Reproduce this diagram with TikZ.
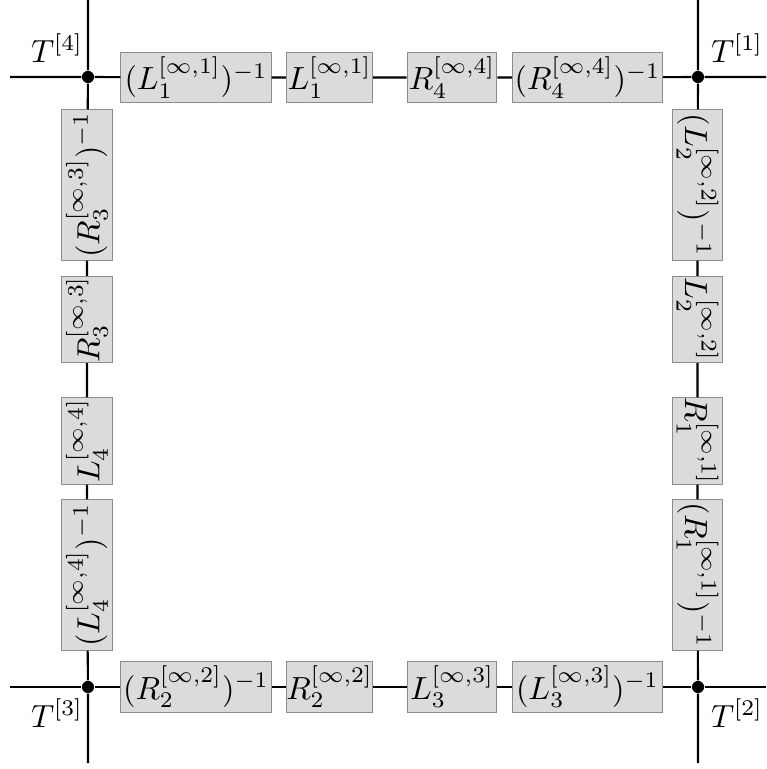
\documentclass[tikz,border=0pt]{standalone}
\usepackage{amsmath}
\begin{document}
\begin{tikzpicture}[x=0.3125pt,y=-0.3125pt,
  wire/.style={line width=0.66pt},
  gbox/.style={draw=black!45,fill=black!14,line width=0.3pt,minimum height=15.8pt,inner sep=0pt},
  longbox/.style={gbox,minimum width=47pt},
  shortbox/.style={gbox,minimum width=27pt},
  cdot/.style={circle,fill=black,inner sep=0pt,minimum size=3.8pt}]
\useasboundingbox (0,0) rectangle (766,769);
% corner dots
\node[cdot] (TL) at (88,77) {};
\node[cdot] (TR) at (698,77) {};
\node[cdot] (BL) at (88,687) {};
\node[cdot] (BR) at (698,687) {};
% free ends
\coordinate (TLw) at (10,77);
\coordinate (TLn) at (88,0);
\coordinate (TRe) at (766,77);
\coordinate (TRn) at (698,0);
\coordinate (BLw) at (10,687);
\coordinate (BLs) at (88,763);
\coordinate (BRe) at (766,687);
\coordinate (BRs) at (698,763);
% top row
\node[longbox] (a1) at (196,77.5) {$(L_1^{[\infty,1]})^{-1}$};
\node[shortbox] (a2) at (329.5,77.5) {$L_1^{[\infty,1]}$};
\node[shortbox,minimum width=28pt] (a3) at (452,77.5) {$R_4^{[\infty,4]}$};
\node[longbox] (a4) at (587.5,77.5) {$(R_4^{[\infty,4]})^{-1}$};
% bottom row
\node[longbox] (b1) at (196,687) {$(R_2^{[\infty,2]})^{-1}$};
\node[shortbox] (b2) at (329.5,687) {$R_2^{[\infty,2]}$};
\node[shortbox,minimum width=28pt] (b3) at (452,687) {$L_3^{[\infty,3]}$};
\node[longbox] (b4) at (587.5,687) {$(L_3^{[\infty,3]})^{-1}$};
% left column
\node[longbox,rotate=90] (l1) at (87,185) {$(R_3^{[\infty,3]})^{-1}$};
\node[shortbox,rotate=90] (l2) at (87,319.5) {$R_3^{[\infty,3]}$};
\node[shortbox,rotate=90] (l3) at (87,441) {$L_4^{[\infty,4]}$};
\node[longbox,rotate=90] (l4) at (87,575) {$(L_4^{[\infty,4]})^{-1}$};
% right column
\node[longbox,rotate=-90] (r1) at (697.5,185) {$(L_2^{[\infty,2]})^{-1}$};
\node[shortbox,rotate=-90] (r2) at (697.5,319.5) {$L_2^{[\infty,2]}$};
\node[shortbox,rotate=-90] (r3) at (697.5,441) {$R_1^{[\infty,1]}$};
\node[longbox,rotate=-90] (r4) at (697.5,575) {$(R_1^{[\infty,1]})^{-1}$};
% wires
\draw[wire] (TLw) -- (TL) -- (a1) -- (a2) -- (a3) -- (a4) -- (TR) -- (TRe);
\draw[wire] (BLw) -- (BL) -- (b1) -- (b2) -- (b3) -- (b4) -- (BR) -- (BRe);
\draw[wire] (TLn) -- (TL) -- (l1) -- (l2) -- (l3) -- (l4) -- (BL) -- (BLs);
\draw[wire] (TRn) -- (TR) -- (r1) -- (r2) -- (r3) -- (r4) -- (BR) -- (BRs);
% labels
\node (t4) at (57,48) {$T^{[4]}$};
\node (t1) at (737,48) {$T^{[1]}$};
\node (t3) at (57,713) {$T^{[3]}$};
\node (t2) at (737,713) {$T^{[2]}$};
\end{tikzpicture}
\end{document}
